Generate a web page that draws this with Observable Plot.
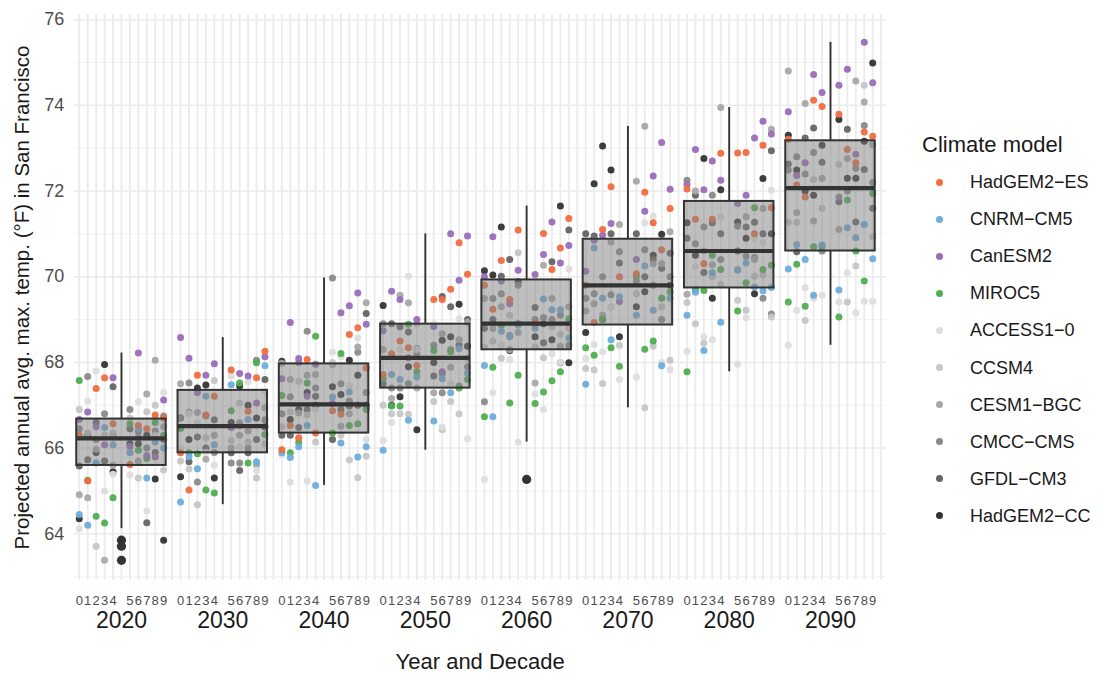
<!DOCTYPE html>
<html>
<head>
<meta charset="utf-8">
<script src="https://cdn.jsdelivr.net/npm/d3@7"></script>
<script src="https://cdn.jsdelivr.net/npm/@observablehq/plot@0.6"></script>
<style>
  html, body { margin: 0; padding: 0; background: #fff; }
  body { font-family: "Liberation Sans", Arial, Helvetica, sans-serif; }
  #wrap { position: relative; width: 1102px; height: 679px; }
  #legend { position: absolute; left: 0; top: 0; }
  .lg-title { position: absolute; left: 922px; font-size: 22px; line-height: 26px; color: #1a1a1a; white-space: nowrap; }
  .lg-item { position: absolute; left: 934px; height: 24px; line-height: 24px; font-size: 18px; color: #1a1a1a; white-space: nowrap; }
  .lg-dot { position: absolute; left: 2px; top: 8.5px; width: 7px; height: 7px; border-radius: 50%; }
  .lg-label { position: absolute; left: 36px; top: 0; }
</style>
</head>
<body>
<div id="wrap"><div id="chart"></div><div id="legend"></div></div>
<script>
// ---- data ----
const models = ["HadGEM2\u2212ES", "CNRM\u2212CM5", "CanESM2", "MIROC5", "ACCESS1\u22120",
                "CCSM4", "CESM1\u2212BGC", "CMCC\u2212CMS", "GFDL\u2212CM3", "HadGEM2\u2212CC"];
const modelColors = ["#F26B3E", "#6DAEDB", "#9B6DB8", "#4FAE4F", "#DDDDDD",
                     "#C6C6C6", "#A8A8A8", "#8A8A8A", "#646464", "#333333"];
const decades = [2020, 2030, 2040, 2050, 2060, 2070, 2080, 2090];
const yearDigits = ["0", "1", "2", "3", "4", "5", "6", "7", "8", "9"];
const yTicks = [64, 66, 68, 70, 72, 74, 76];

// each row = one year of the decade, values in the order of `models`
const temps2020s = [
  [66.3, 64.45, 66.67, 67.58, 64.12, 66.9, 64.91, 66.45, 65.58, 64.35],
  [65.23, 64.2, 66.84, 65.25, 67.1, 66.35, 64.84, 67.67, 65.73, 66.3],
  [67.39, 65.65, 66.5, 64.41, 67.8, 63.71, 65.97, 66.2, 66.6, 65.9],
  [67.64, 66.48, 66.08, 64.25, 65.0, 66.3, 63.38, 66.8, 65.7, 67.95],
  [66.57, 66.08, 67.64, 64.84, 65.39, 66.35, 65.6, 66.3, 67.43, 65.45],
  [65.62, 65.9, 66.04, 66.56, 65.37, 66.7, 65.9, 66.9, 66.45, 66.1],
  [66.53, 66.43, 68.22, 65.95, 67.08, 65.3, 65.7, 66.25, 66.4, 66.1],
  [66.45, 65.3, 65.83, 65.76, 64.53, 66.85, 67.26, 66.0, 64.26, 66.3],
  [66.77, 66.14, 65.79, 66.6, 66.3, 67.0, 68.05, 66.4, 65.9, 65.28],
  [66.7, 66.0, 67.12, 66.3, 67.3, 65.49, 66.5, 66.75, 66.2, 63.85]
];
const temps2030s = [
  [65.89, 64.74, 68.58, 66.46, 66.0, 65.7, 67.5, 66.71, 66.7, 65.33],
  [65.02, 65.8, 68.1, 65.89, 66.8, 65.51, 66.84, 67.52, 65.68, 66.2],
  [67.7, 65.52, 67.3, 65.87, 66.6, 64.68, 66.83, 65.21, 66.26, 67.4],
  [66.77, 67.21, 67.7, 65.02, 65.9, 66.24, 65.74, 66.75, 66.0, 67.47],
  [67.21, 66.08, 67.97, 64.95, 65.6, 67.58, 66.3, 65.9, 66.66, 65.3],
  [67.82, 67.48, 66.48, 66.87, 67.68, 66.18, 66.0, 65.65, 65.89, 66.6],
  [66.53, 66.6, 67.74, 67.52, 66.03, 67.05, 66.3, 65.65, 65.48, 67.45],
  [66.86, 66.67, 67.68, 65.65, 67.55, 66.14, 66.4, 66.0, 65.89, 67.0],
  [67.64, 65.68, 67.05, 67.99, 65.48, 65.3, 65.61, 68.05, 66.2, 66.7],
  [68.26, 67.92, 68.13, 66.32, 67.33, 66.1, 66.94, 66.66, 67.6, 66.5]
];
const temps2040s = [
  [65.96, 65.89, 67.62, 67.23, 65.85, 66.5, 67.98, 66.8, 66.3, 68.03],
  [66.53, 65.78, 68.93, 65.89, 65.21, 66.84, 67.6, 67.2, 66.3, 66.67],
  [66.24, 66.03, 68.09, 66.13, 66.2, 67.56, 66.82, 68.0, 66.48, 66.9],
  [68.07, 66.53, 67.21, 67.52, 65.23, 66.77, 67.7, 68.73, 66.9, 67.3],
  [66.35, 65.13, 67.96, 68.61, 66.9, 66.14, 67.72, 67.4, 67.21, 67.0],
  [66.87, 67.19, 67.04, 66.35, 68.24, 68.0, 67.95, 69.97, 66.2, 67.43],
  [66.79, 66.12, 69.16, 68.21, 68.13, 66.3, 66.51, 67.5, 66.9, 67.25],
  [68.65, 67.31, 69.32, 66.53, 67.45, 65.72, 66.8, 67.1, 66.98, 68.05],
  [68.81, 65.79, 69.62, 66.57, 68.57, 65.31, 68.36, 68.24, 67.0, 67.7],
  [67.87, 66.03, 68.89, 66.9, 66.2, 65.81, 69.39, 67.3, 69.14, 67.0]
];
const temps2050s = [
  [67.72, 65.95, 68.74, 67.62, 66.18, 67.0, 68.3, 68.9, 67.5, 69.33],
  [68.2, 67.72, 69.66, 66.98, 66.6, 66.8, 67.16, 67.4, 68.9, 67.0],
  [68.5, 67.6, 69.47, 66.98, 68.3, 66.8, 69.57, 67.4, 68.83, 67.2],
  [68.34, 66.65, 68.11, 68.89, 70.01, 66.79, 69.39, 67.5, 68.71, 67.9],
  [67.93, 67.66, 69.0, 67.78, 68.3, 68.9, 67.4, 68.2, 68.32, 66.43],
  [69.47, 66.63, 68.84, 68.28, 68.9, 67.09, 67.29, 68.4, 67.68, 68.0],
  [69.47, 67.62, 67.78, 67.74, 66.49, 66.43, 68.67, 67.29, 69.54, 68.52],
  [69.71, 67.29, 71.0, 68.25, 67.5, 67.09, 67.89, 68.3, 69.3, 68.6],
  [70.79, 68.32, 69.92, 67.4, 69.02, 66.8, 68.53, 67.45, 68.4, 69.36],
  [70.06, 67.75, 70.95, 67.6, 66.22, 68.1, 68.94, 67.9, 69.0, 68.38]
];
const temps2060s = [
  [69.8, 67.93, 70.0, 66.73, 65.27, 68.36, 69.49, 67.08, 68.8, 70.14],
  [69.24, 66.73, 70.93, 67.89, 67.29, 68.5, 68.79, 69.49, 69.0, 70.04],
  [70.38, 68.73, 69.9, 68.87, 68.4, 68.1, 69.3, 69.6, 70.01, 71.16],
  [69.47, 68.6, 69.37, 67.05, 68.07, 69.1, 68.3, 68.63, 70.4, 68.28],
  [71.09, 68.87, 70.15, 67.7, 66.14, 70.56, 68.7, 69.8, 68.9, 69.88],
  [68.91, 68.8, 70.05, 67.04, 67.27, 68.36, 67.52, 69.0, 69.28, 68.6],
  [71.01, 69.48, 70.52, 67.31, 66.9, 68.11, 70.27, 69.05, 68.46, 68.9],
  [70.17, 69.23, 71.28, 67.57, 68.2, 68.83, 69.49, 69.0, 70.35, 68.53],
  [70.67, 69.23, 70.32, 67.78, 68.0, 68.65, 68.38, 69.1, 67.99, 71.65],
  [71.36, 68.57, 70.73, 69.02, 70.18, 68.8, 69.3, 68.4, 71.09, 67.99]
];
const temps2070s = [
  [69.8, 67.49, 70.13, 68.34, 68.09, 67.86, 69.2, 69.5, 71.0, 68.7],
  [68.93, 70.67, 70.85, 68.17, 68.42, 67.82, 69.37, 69.6, 70.95, 72.17],
  [71.1, 69.5, 70.97, 69.0, 68.25, 67.51, 69.1, 70.0, 69.0, 73.05],
  [72.1, 68.53, 71.24, 68.34, 69.3, 69.29, 70.81, 69.58, 71.0, 72.49],
  [70.0, 69.53, 69.42, 67.91, 67.6, 68.4, 71.22, 70.58, 70.32, 68.6],
  [70.07, 69.1, 70.4, 70.01, 67.66, 69.6, 72.23, 69.9, 71.0, 69.3],
  [71.97, 70.25, 71.53, 68.31, 71.26, 66.94, 73.51, 70.63, 70.0, 69.65],
  [71.26, 69.22, 72.35, 68.5, 71.41, 68.38, 70.3, 69.8, 70.4, 70.5],
  [70.63, 67.92, 73.13, 69.5, 68.0, 69.3, 70.31, 69.0, 70.2, 70.99],
  [71.59, 69.5, 72.04, 69.65, 67.83, 68.05, 71.05, 70.0, 70.55, 69.8]
];
const temps2080s = [
  [72.05, 69.1, 72.15, 67.78, 68.26, 69.4, 69.59, 72.25, 70.9, 71.26],
  [71.34, 69.64, 72.97, 69.7, 70.24, 68.9, 72.0, 70.77, 71.9, 70.5],
  [70.3, 68.28, 72.03, 69.68, 68.6, 68.45, 70.6, 71.16, 70.1, 72.76],
  [71.34, 70.09, 72.7, 70.5, 68.53, 70.0, 70.28, 71.9, 71.26, 69.5],
  [72.88, 68.94, 72.25, 70.17, 71.4, 69.82, 73.95, 70.4, 71.0, 72.03],
  [72.89, 70.15, 71.71, 69.2, 67.96, 69.45, 70.17, 71.18, 70.6, 71.28],
  [72.9, 70.32, 71.9, 69.86, 69.04, 69.22, 71.4, 70.48, 71.16, 70.9],
  [71.0, 69.76, 73.24, 71.61, 70.9, 70.01, 70.4, 70.45, 71.27, 69.6],
  [73.07, 69.67, 73.63, 70.17, 70.8, 70.04, 71.59, 69.5, 71.0, 72.29],
  [71.61, 69.75, 73.33, 70.27, 72.02, 69.06, 73.44, 69.13, 72.94, 71.0]
];
const temps2090s = [
  [73.21, 70.18, 73.85, 69.41, 68.4, 71.27, 74.8, 72.49, 72.63, 73.3],
  [72.14, 70.75, 72.36, 70.29, 69.22, 71.27, 71.5, 72.8, 70.58, 72.49],
  [71.86, 70.4, 72.66, 69.31, 69.74, 68.98, 74.04, 72.4, 73.24, 72.0],
  [74.12, 69.57, 74.72, 70.7, 69.5, 72.27, 71.3, 72.9, 73.47, 71.9],
  [73.97, 70.74, 74.3, 70.71, 69.57, 71.6, 72.3, 70.6, 72.67, 73.07],
  [73.79, 69.69, 74.47, 69.06, 69.41, 72.62, 71.1, 71.86, 71.75, 73.67],
  [72.97, 71.14, 74.84, 71.79, 70.09, 69.41, 72.76, 72.0, 73.44, 72.3],
  [72.66, 70.91, 72.86, 70.6, 69.16, 70.25, 74.57, 72.53, 71.28, 72.3],
  [73.38, 71.22, 75.47, 69.9, 69.43, 74.47, 74.08, 73.53, 72.5, 73.16],
  [73.28, 70.42, 74.53, 71.94, 69.43, 70.93, 73.08, 72.2, 71.6, 74.99]
];
const decadeTemps = [temps2020s, temps2030s, temps2040s, temps2050s,
                     temps2060s, temps2070s, temps2080s, temps2090s];

// ---- derived tables ----
// discrete slots: 0..4, (decade centre), 5..9, (spacer)  -> 12 slots per decade
const slot = (d, y) => 12 * d + y + (y >= 5 ? 1 : 0);
const centreSlot = d => 12 * d + 5;

const points = [];
decadeTemps.forEach((rows, d) => rows.forEach((vals, y) => vals.forEach((v, m) => {
  points.push({pos: slot(d, y), year: decades[d] + y, model: models[m], order: m, temp: v});
})));
// draw grey models first, coloured on top
points.sort((a, b) => b.order - a.order);

const stats = decades.map((dec, d) => {
  const v = decadeTemps[d].flat().sort(d3.ascending);
  const q1 = d3.quantileSorted(v, 0.25), med = d3.quantileSorted(v, 0.5), q3 = d3.quantileSorted(v, 0.75);
  const iqr = q3 - q1;
  const inside = v.filter(x => x >= q1 - 1.5 * iqr && x <= q3 + 1.5 * iqr);
  return {decade: dec, c: centreSlot(d), q1, med, q3, lo: d3.min(inside), hi: d3.max(inside),
          out: v.filter(x => x < q1 - 1.5 * iqr || x > q3 + 1.5 * iqr)};
});
const outliers = stats.flatMap(s => s.out.map(t => ({c: s.c, temp: t})));

const digitTicks = [], digitLabel = new Map();
decades.forEach((dec, d) => yearDigits.forEach((lab, y) => { digitTicks.push(slot(d, y)); digitLabel.set(slot(d, y), lab); }));
const decadeTicks = decades.map((dec, d) => centreSlot(d));
const decadeLabel = new Map(decades.map((dec, d) => [centreSlot(d), String(dec)]));
const allSlots = d3.range(0, 12 * decades.length);
const majorY = yTicks, minorY = d3.range(63, 77, 2);
const halfBox = 5.3;

const chart = Plot.plot({
  width: 1102, height: 679,
  marginLeft: 73.7, marginRight: 216.3, marginTop: 14, marginBottom: 99,
  style: {fontFamily: "'Liberation Sans', Arial, Helvetica, sans-serif", background: "#fff"},
  x: {type: "linear", domain: [-0.6, 95.6]},
  y: {domain: [62.91, 76.12]},
  color: {domain: models, range: modelColors},
  marks: [
    Plot.ruleY(minorY, {stroke: "#F2F2F2", strokeWidth: 1}),
    Plot.ruleY(majorY, {stroke: "#EBEBEB", strokeWidth: 1.5}),
    Plot.ruleX(allSlots, {stroke: "#EBEBEB", strokeWidth: 1.8}),
    Plot.dot(points, {x: "pos", y: "temp", fill: "model", r: 3.5, stroke: "none", fillOpacity: 0.95}),
    Plot.ruleX(stats, {x: "c", y1: "q3", y2: "hi", stroke: "#333333", strokeWidth: 1.9}),
    Plot.ruleX(stats, {x: "c", y1: "lo", y2: "q1", stroke: "#333333", strokeWidth: 1.9}),
    Plot.rect(stats, {x1: d => d.c - halfBox, x2: d => d.c + halfBox, y1: "q1", y2: "q3",
                      fill: "#7F7F7F", fillOpacity: 0.5, stroke: "#333333", strokeWidth: 2}),
    Plot.ruleY(stats, {y: "med", x1: d => d.c - halfBox, x2: d => d.c + halfBox, stroke: "#333333", strokeWidth: 4.2}),
    Plot.dot(outliers, {x: "c", y: "temp", r: 4.6, fill: "#333333", stroke: "none"}),
    Plot.axisY(majorY, {tickSize: 0, tickPadding: 10, fontSize: 18, fill: "#4D4D4D", label: null}),
    Plot.axisX(digitTicks, {tickSize: 0, tickPadding: 15, fontSize: 13, fill: "#4D4D4D", label: null,
                            tickFormat: p => digitLabel.get(p)}),
    Plot.axisX(decadeTicks, {tickSize: 0, tickPadding: 31, fontSize: 23, fill: "#1A1A1A", label: null,
                             tickFormat: p => decadeLabel.get(p)}),
    Plot.text(["Year and Decade"], {frameAnchor: "bottom", dy: 88, fontSize: 22, fill: "#1A1A1A", textAnchor: "middle"}),
    Plot.text(["Projected annual avg. max. temp. (\u00B0F) in San Francisco"],
              {frameAnchor: "left", dx: -52, rotate: -90, textAnchor: "middle", fontSize: 20.5, fill: "#1A1A1A"})
  ]
});
document.getElementById("chart").appendChild(chart);

// ---- legend (HTML, right of the panel) ----
const legend = document.getElementById("legend");
const t = document.createElement("div");
t.className = "lg-title"; t.style.top = "132px"; t.textContent = "Climate model";
legend.appendChild(t);
models.forEach((m, i) => {
  const it = document.createElement("div");
  it.className = "lg-item";
  it.style.top = (182 + 37.1 * i - 12) + "px";
  const dot = document.createElement("span");
  dot.className = "lg-dot"; dot.style.background = modelColors[i];
  const lab = document.createElement("span");
  lab.className = "lg-label"; lab.textContent = m;
  it.appendChild(dot); it.appendChild(lab);
  legend.appendChild(it);
});
</script>
</body>
</html>
